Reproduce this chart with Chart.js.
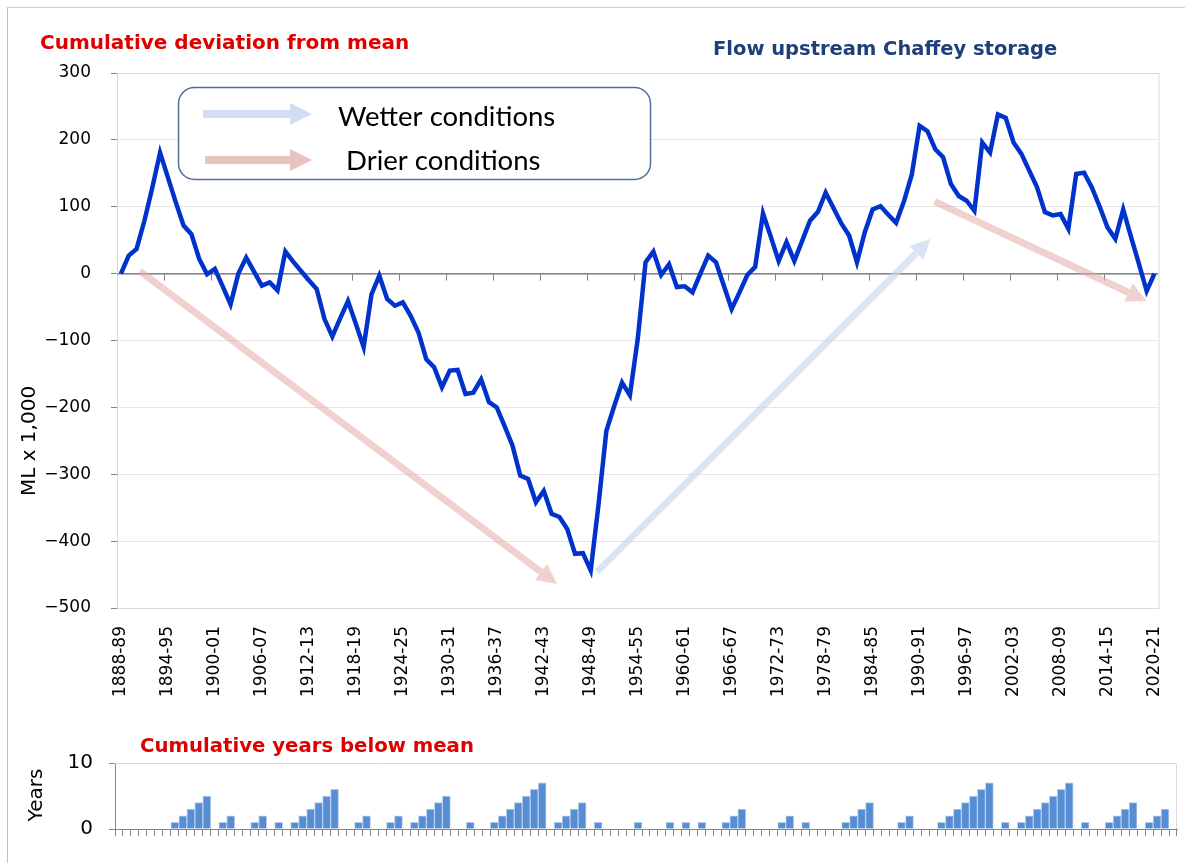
<!DOCTYPE html>
<html>
<head>
<meta charset="utf-8">
<script src="https://cdn.jsdelivr.net/npm/chart.js@4.4.0/dist/chart.umd.min.js"></script>
<style>
  body { margin: 0; background: #fff; }
  #wrap { position: relative; width: 1185px; height: 863px; overflow: hidden; }
  #frame { position: absolute; left: 7px; top: 7px; width: 1200px; height: 900px; border-left: 1px solid #bfbfbf; border-top: 1px solid #d0d0d0; }
  #mainChart { position: absolute; left: 0; top: 0; }
  #barChart { position: absolute; left: 0; top: 735px; }
</style>
</head>
<body>
<div id="wrap">
  <div id="frame"></div>
  <canvas id="mainChart" width="1185" height="735"></canvas>
  <canvas id="barChart" width="1185" height="128"></canvas>
</div>
<script>
/* data START */
var firstYear = 1888;
var seasons = [];
for (let y = firstYear; y <= 2020; y++) {
    seasons.push(y + '-' + String((y + 1) % 100).padStart(2, '0'));
}

// cumulative deviation from mean, ML x 1,000
var deviation = [
    0, 27, 37, 79, 128, 181, 144, 107, 72, 59,
    22, -1, 7, -19, -46, 0, 24, 3, -18, -13,
    -25, 33, 18, 4, -10, -23, -68, -94, -67, -41,
    -75, -110, -31, -3, -38, -48, -43, -63, -88, -128,
    -140, -170, -145, -144, -180, -178, -158, -192, -200, -228,
    -257, -302, -307, -342, -325, -359, -364, -382, -419, -418,
    -444, -345, -235, -198, -163, -182, -98, 17, 33, -2,
    14, -20, -19, -28, 0, 27, 17, -18, -53, -28,
    -2, 10, 90, 55, 19, 47, 19, 49, 79, 92,
    121, 98, 75, 57, 17, 62, 96, 101, 88, 76,
    108, 148, 221, 213, 186, 174, 134, 116, 109, 94,
    196, 181, 238, 233, 196, 179, 154, 129, 92, 87,
    89, 67, 149, 151, 129, 100, 69, 52, 96, 55,
    15, -26, 0
];

// cumulative years below mean
var yearsBelow = [
    0, 0, 0, 0, 0, 0, 0, 1, 2, 3,
    4, 5, 0, 1, 2, 0, 0, 1, 2, 0,
    1, 0, 1, 2, 3, 4, 5, 6, 0, 0,
    1, 2, 0, 0, 1, 2, 0, 1, 2, 3,
    4, 5, 0, 0, 1, 0, 0, 1, 2, 3,
    4, 5, 6, 7, 0, 1, 2, 3, 4, 0,
    1, 0, 0, 0, 0, 1, 0, 0, 0, 1,
    0, 1, 0, 1, 0, 0, 1, 2, 3, 0,
    0, 0, 0, 1, 2, 0, 1, 0, 0, 0,
    0, 1, 2, 3, 4, 0, 0, 0, 1, 2,
    0, 0, 0, 1, 2, 3, 4, 5, 6, 7,
    0, 1, 0, 1, 2, 3, 4, 5, 6, 7,
    0, 1, 0, 0, 1, 2, 3, 4, 0, 1,
    2, 3, 0
];

var devTicks = [300, 200, 100, 0, -100, -200, -300, -400, -500];
var yearTicks = [0, 10];

// trend arrows, in [category index, value]
var trendArrows = [
    { from: [2.4, 4], to: [55.7, -464], color: 'rgba(226,172,170,0.55)' },
    { from: [60.8, -446], to: [103.4, 52], color: 'rgba(196,214,238,0.65)' },
    { from: [103.9, 108], to: [131, -41], color: 'rgba(226,172,170,0.55)' }
];
/* data END */

var tickFont = { family: 'DejaVu Sans', size: 17 };
var xTickFont = { family: 'DejaVu Sans', size: 17 };
var gridGrey = '#e6e6e6';
var axisGrey = '#868686';

function drawArrow(ctx, x1, y1, x2, y2, width, headLen, headWidth, color) {
    var ang = Math.atan2(y2 - y1, x2 - x1);
    var bx = x2 - headLen * Math.cos(ang);
    var by = y2 - headLen * Math.sin(ang);
    ctx.save();
    ctx.strokeStyle = color;
    ctx.fillStyle = color;
    ctx.lineWidth = width;
    ctx.lineCap = 'butt';
    ctx.beginPath();
    ctx.moveTo(x1, y1);
    ctx.lineTo(bx, by);
    ctx.stroke();
    ctx.beginPath();
    ctx.moveTo(x2, y2);
    ctx.lineTo(bx + headWidth / 2 * Math.sin(ang), by - headWidth / 2 * Math.cos(ang));
    ctx.lineTo(bx - headWidth / 2 * Math.sin(ang), by + headWidth / 2 * Math.cos(ang));
    ctx.closePath();
    ctx.fill();
    ctx.restore();
}

function verticalText(ctx, text, x, y, font) {
    ctx.save();
    ctx.translate(x, y);
    ctx.rotate(-Math.PI / 2);
    ctx.font = font;
    ctx.fillStyle = '#000';
    ctx.textAlign = 'center';
    ctx.textBaseline = 'middle';
    ctx.fillText(text, 0, 0);
    ctx.restore();
}

var mainDecor = {
    id: 'mainDecor',
    beforeDatasetsDraw: function (chart) {
        var ctx = chart.ctx, xs = chart.scales.x, ys = chart.scales.y, area = chart.chartArea;
        // plot border
        ctx.save();
        ctx.strokeStyle = '#d9d9d9';
        ctx.lineWidth = 1;
        ctx.strokeRect(area.left + 0.5, area.top + 0.5, area.right - area.left, area.bottom - area.top);
        ctx.restore();
        // zero line with tick marks every 6 seasons
        var step = xs.getPixelForValue(1) - xs.getPixelForValue(0);
        var y0 = ys.getPixelForValue(0);
        ctx.save();
        ctx.strokeStyle = axisGrey;
        ctx.lineWidth = 1;
        ctx.beginPath();
        ctx.moveTo(area.left, y0 + 0.5);
        ctx.lineTo(area.right, y0 + 0.5);
        for (let i = 6; i < seasons.length; i += 6) {
            var px = Math.round(xs.getPixelForValue(i) - step / 2) + 0.5;
            ctx.moveTo(px, y0);
            ctx.lineTo(px, y0 + 7);
        }
        ctx.stroke();
        ctx.restore();
        trendArrows.forEach(function (a) {
            drawArrow(ctx,
                xs.getPixelForValue(a.from[0]), ys.getPixelForValue(a.from[1]),
                xs.getPixelForValue(a.to[0]), ys.getPixelForValue(a.to[1]),
                7, 20, 20, a.color);
        });
    },
    afterDraw: function (chart) {
        var ctx = chart.ctx;
        ctx.save();
        ctx.textBaseline = 'alphabetic';
        ctx.font = 'bold 20px "DejaVu Sans"';
        ctx.fillStyle = '#e00000';
        ctx.fillText('Cumulative deviation from mean', 40, 49);
        ctx.font = 'bold 19.5px "DejaVu Sans"';
        ctx.fillStyle = '#1f3f7a';
        ctx.fillText('Flow upstream Chaffey storage', 713, 55);

        verticalText(ctx, 'ML x 1,000', 30, 441, '20px "DejaVu Sans"');

        // legend box
        ctx.strokeStyle = '#4f6f99';
        ctx.lineWidth = 1.5;
        ctx.beginPath();
        ctx.roundRect(178.5, 87.5, 472, 92, 16);
        ctx.fillStyle = '#fff';
        ctx.fill();
        ctx.stroke();
        drawArrow(ctx, 203, 114, 312, 114, 8, 22, 22, 'rgba(196,214,238,0.8)');
        drawArrow(ctx, 205, 160, 312, 160, 8, 22, 22, 'rgba(226,172,170,0.75)');
        ctx.fillStyle = '#000';
        ctx.font = '27.5px Lato';
        ctx.fillText('Wetter conditions', 338, 126);
        ctx.fillText('Drier conditions', 346, 170);
        ctx.restore();
    }
};

new Chart(document.getElementById('mainChart'), {
    type: 'line',
    data: {
        labels: seasons,
        datasets: [{
            data: deviation,
            borderColor: '#0033cc',
            borderWidth: 4.5,
            pointRadius: 0,
            tension: 0,
            fill: false
        }]
    },
    options: {
        responsive: false,
        animation: false,
        layout: { padding: { top: 73, right: 23, left: 0, bottom: 0 } },
        plugins: { legend: { display: false }, tooltip: { enabled: false } },
        scales: {
            x: {
                offset: true,
                grid: { display: false },
                border: { color: '#d9d9d9' },
                afterFit: function (scale) { scale.height = 127; },
                ticks: {
                    autoSkip: false,
                    minRotation: 90,
                    maxRotation: 90,
                    padding: 10,
                    color: '#000',
                    font: xTickFont,
                    callback: function (value, index) {
                        return index % 6 === 0 ? seasons[index] : '';
                    }
                }
            },
            y: {
                min: -500,
                max: 300,
                afterFit: function (scale) { scale.width = 117; },
                afterBuildTicks: function (scale) {
                    scale.ticks = devTicks.map(function (v) { return { value: v }; });
                },
                grid: {
                    color: function (c) { return c.tick && c.tick.value === 0 ? axisGrey : gridGrey; },
                    tickColor: axisGrey,
                    tickLength: 6
                },
                border: { color: axisGrey },
                ticks: {
                    color: '#000',
                    font: tickFont,
                    padding: 20,
                    callback: function (value) { return String(value).replace('-', '\u2212'); }
                }
            }
        }
    },
    plugins: [mainDecor]
});

var barDecor = {
    id: 'barDecor',
    afterDraw: function (chart) {
        var ctx = chart.ctx, area = chart.chartArea;
        ctx.save();
        ctx.strokeStyle = '#d9d9d9';
        ctx.lineWidth = 1;
        ctx.beginPath();
        ctx.moveTo(area.left, area.top + 0.5);
        ctx.lineTo(area.right - 0.5, area.top + 0.5);
        ctx.lineTo(area.right - 0.5, area.bottom);
        ctx.stroke();
        ctx.font = 'bold 19.7px "DejaVu Sans"';
        ctx.fillStyle = '#e00000';
        ctx.fillText('Cumulative years below mean', 140, 17);
        verticalText(ctx, 'Years', 37, 60, '20px "DejaVu Sans"');
        ctx.restore();
    }
};

new Chart(document.getElementById('barChart'), {
    type: 'bar',
    data: {
        labels: seasons,
        datasets: [{
            data: yearsBelow,
            backgroundColor: '#558ed5',
            borderColor: '#b9cde9',
            borderWidth: 1,
            barPercentage: 1,
            categoryPercentage: 1
        }]
    },
    options: {
        responsive: false,
        animation: false,
        layout: { padding: { top: 27, right: 8, left: 0, bottom: 0 } },
        plugins: { legend: { display: false }, tooltip: { enabled: false } },
        scales: {
            x: {
                afterFit: function (scale) { scale.height = 34; },
                grid: { drawOnChartArea: false, color: axisGrey, tickLength: 7 },
                border: { color: axisGrey },
                ticks: { display: false }
            },
            y: {
                min: 0,
                max: 10,
                afterFit: function (scale) { scale.width = 115; },
                afterBuildTicks: function (scale) {
                    scale.ticks = yearTicks.map(function (v) { return { value: v }; });
                },
                grid: { drawOnChartArea: false, color: axisGrey, tickLength: 6 },
                border: { color: axisGrey },
                ticks: { color: '#000', font: { family: 'DejaVu Sans', size: 20 }, padding: 16 }
            }
        }
    },
    plugins: [barDecor]
});
</script>
</body>
</html>
